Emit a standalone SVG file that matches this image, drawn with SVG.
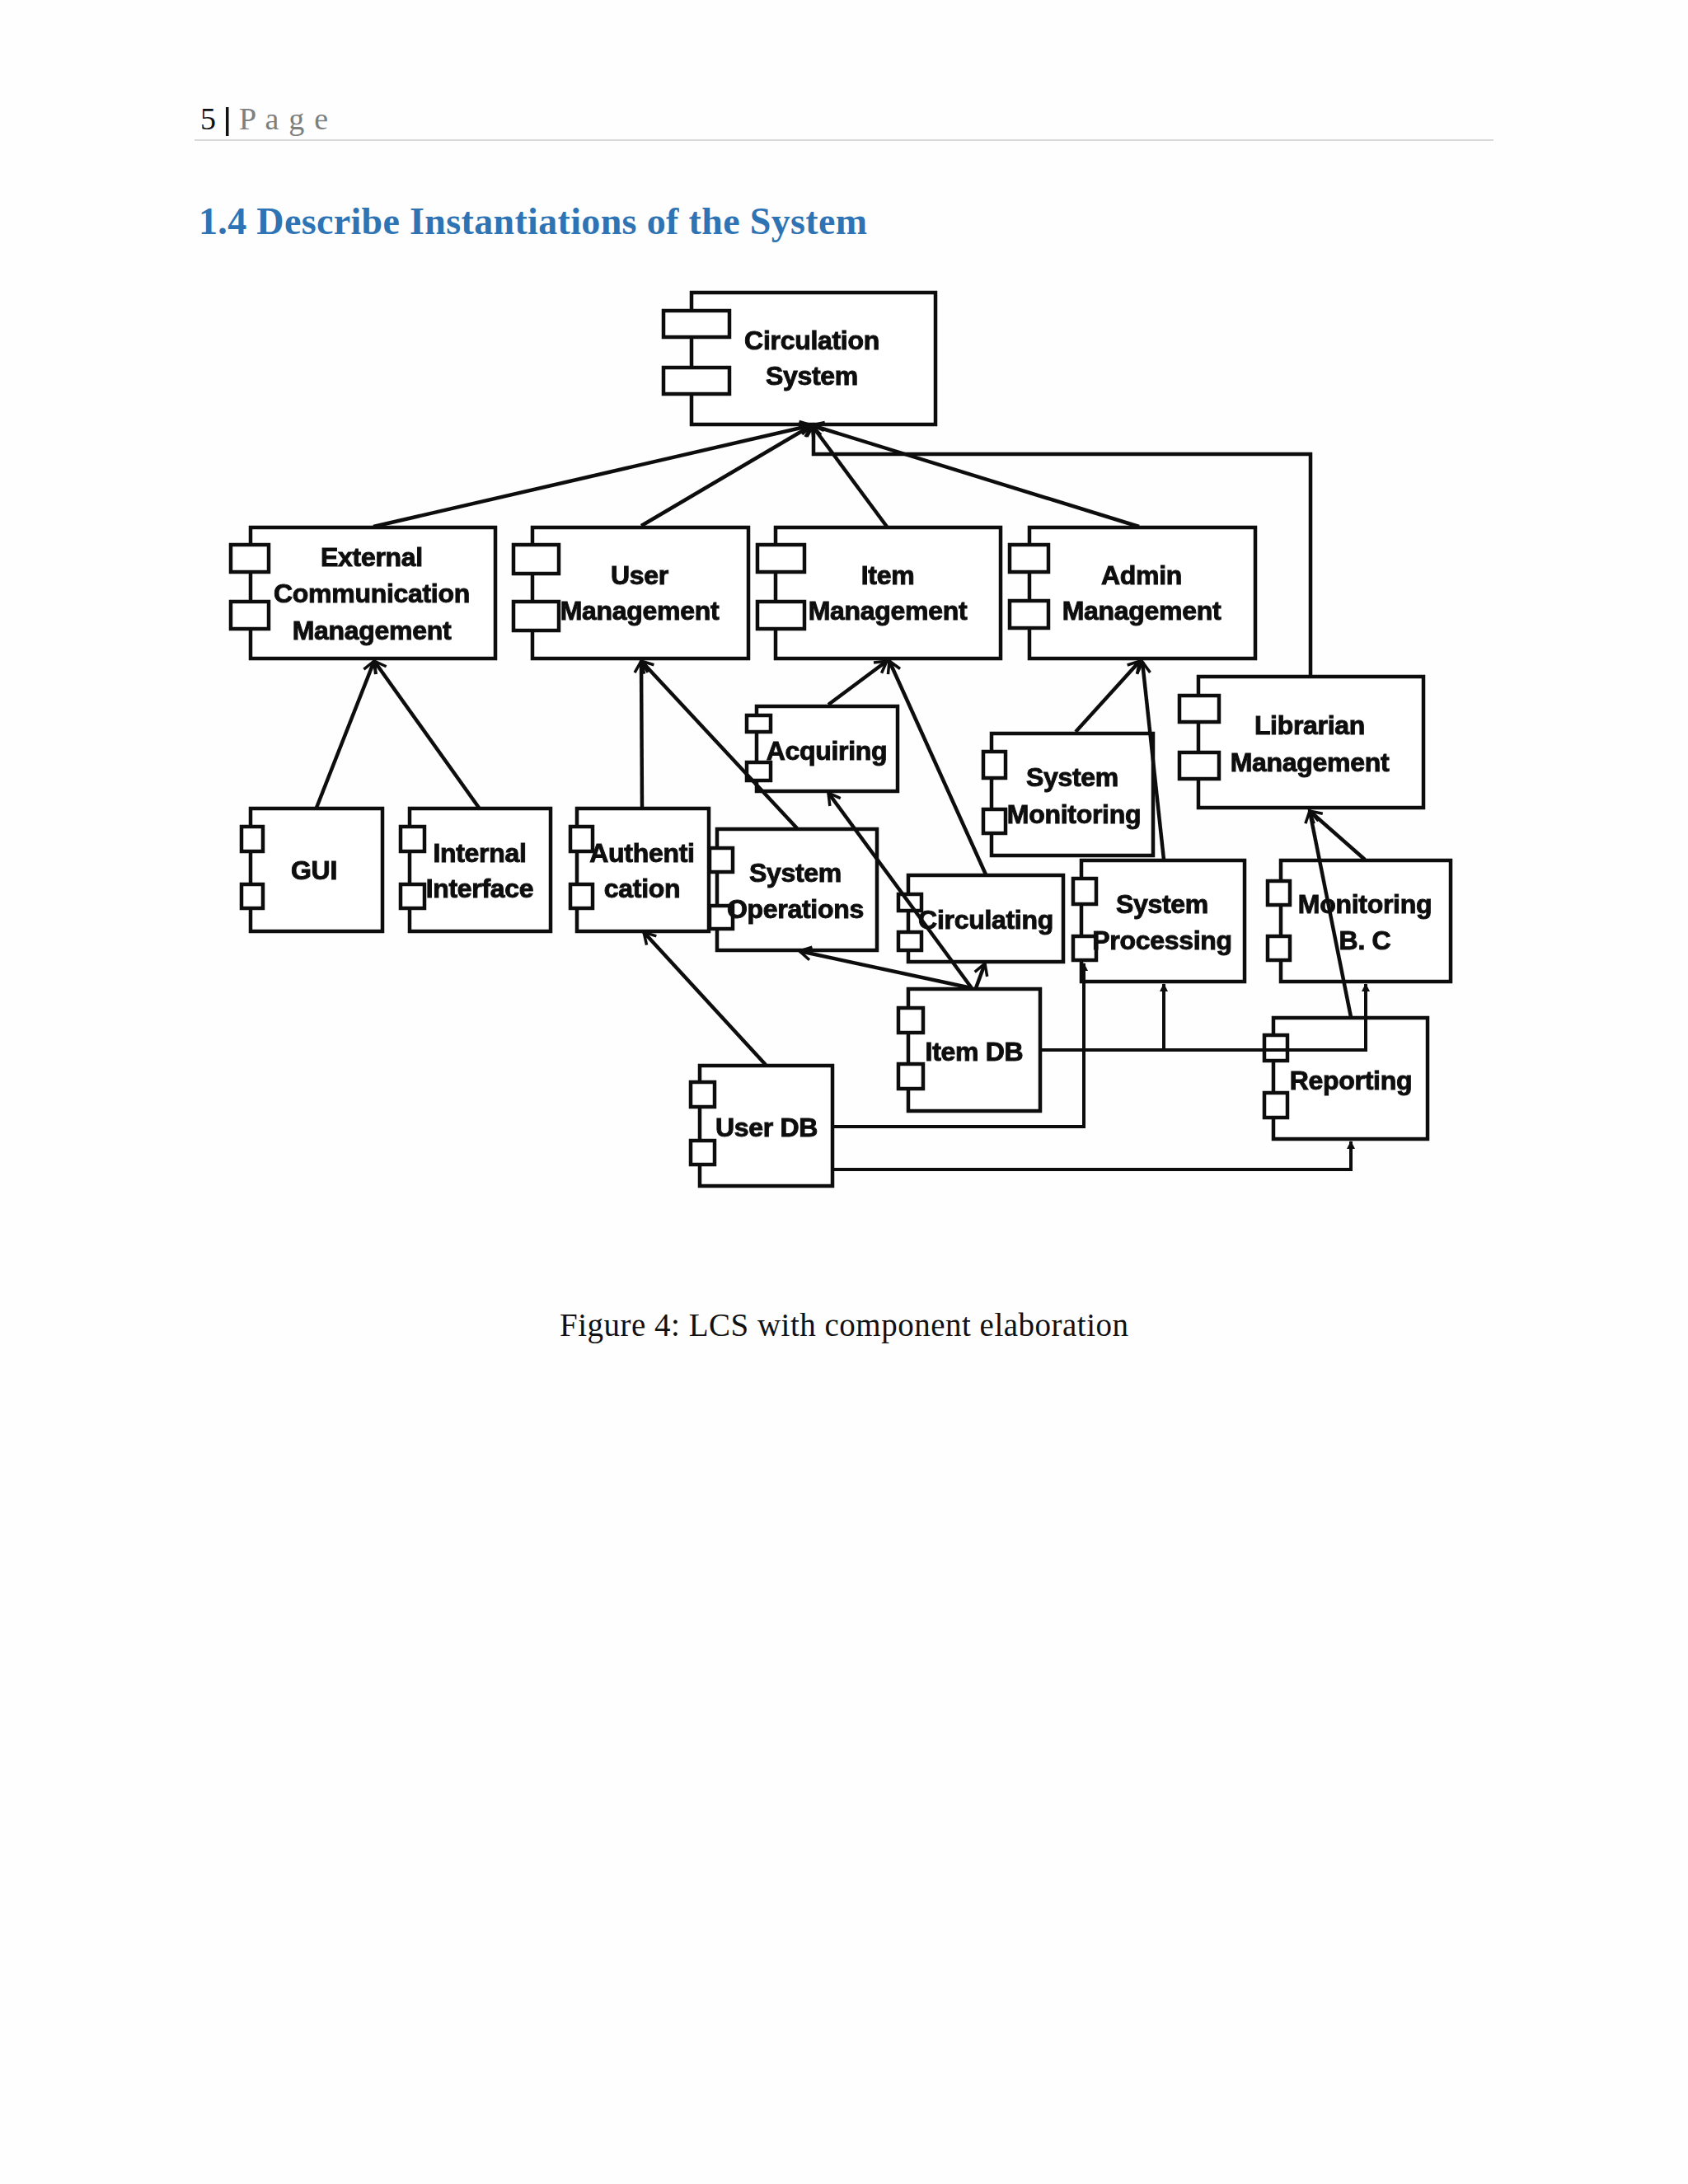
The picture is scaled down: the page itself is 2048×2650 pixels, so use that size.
<svg xmlns="http://www.w3.org/2000/svg" width="2048" height="2650" viewBox="0 0 2048 2650">
<style>
.b{fill:#fff;stroke:#111;stroke-width:4.5}
.l{font-family:"Liberation Sans",Arial,sans-serif;font-weight:700;font-size:32px;fill:#111;text-anchor:middle;letter-spacing:-.3px;stroke:#111;stroke-width:1}
.c{fill:none;stroke:#111;stroke-width:4.5}
.a{marker-end:url(#open)}
.t{stroke-width:4;marker-end:url(#small)}
.s{font-family:"Liberation Serif","Times New Roman",serif}
</style>
<defs>
<marker id="open" markerUnits="userSpaceOnUse" markerWidth="26" markerHeight="26" refX="19" refY="13" orient="auto"><path d="M5 5L19 13L5 21M19 13H8" fill="none" stroke="#111" stroke-width="3.5"/></marker>
<marker id="small" markerUnits="userSpaceOnUse" markerWidth="14" markerHeight="14" refX="10" refY="7" orient="auto"><path d="M1 2L11 7L1 12Z" fill="#111"/></marker>
<filter id="soft" x="-5%" y="-5%" width="110%" height="110%" filterUnits="objectBoundingBox"><feGaussianBlur stdDeviation=".6"/></filter>
</defs>
<rect width="2048" height="2650" fill="#fefefe"/>
<g id="header">
<text class="s" x="243" y="157" font-size="38" fill="#111">5</text>
<rect x="274" y="130" width="3.5" height="35" fill="#111"/>
<text class="s" x="290" y="157" font-size="38" fill="#7f7f7f" textLength="108">P a g e</text>
<rect x="236" y="169" width="1576" height="2" fill="#d9d9d9"/>
<text class="s" x="241" y="284" font-size="46" font-weight="700" fill="#2e74b5" textLength="811">1.4 Describe Instantiations of the System</text>
</g>
<g filter="url(#soft)">
<g id="circulation-system"><rect class="b" x="839" y="355" width="296" height="160"/><rect class="b" x="805" y="377" width="80" height="32"/><rect class="b" x="805" y="446" width="80" height="32"/><text class="l" x="985" y="424">Circulation</text><text class="l" x="985" y="467">System</text></g>
<g id="external-communication-management"><rect class="b" x="304" y="640" width="297" height="159"/><rect class="b" x="280" y="661" width="46" height="33"/><rect class="b" x="280" y="730" width="46" height="33"/><text class="l" x="451" y="687">External</text><text class="l" x="451" y="731">Communication</text><text class="l" x="451" y="776">Management</text></g>
<g id="user-management"><rect class="b" x="646" y="640" width="262" height="159"/><rect class="b" x="623" y="661" width="55" height="35"/><rect class="b" x="623" y="730" width="55" height="35"/><text class="l" x="776" y="709">User</text><text class="l" x="776" y="752">Management</text></g>
<g id="item-management"><rect class="b" x="941" y="640" width="273" height="159"/><rect class="b" x="919" y="661" width="57" height="33"/><rect class="b" x="919" y="730" width="57" height="33"/><text class="l" x="1077" y="709">Item</text><text class="l" x="1077" y="752">Management</text></g>
<g id="admin-management"><rect class="b" x="1249" y="640" width="274" height="159"/><rect class="b" x="1225" y="661" width="47" height="33"/><rect class="b" x="1225" y="729" width="47" height="33"/><text class="l" x="1385" y="709">Admin</text><text class="l" x="1385" y="752">Management</text></g>
<g id="librarian-management"><rect class="b" x="1454" y="821" width="273" height="159"/><rect class="b" x="1431" y="844" width="48" height="32"/><rect class="b" x="1431" y="913" width="48" height="32"/><text class="l" x="1589" y="891">Librarian</text><text class="l" x="1589" y="936">Management</text></g>
<g id="gui"><rect class="b" x="304" y="981" width="160" height="149"/><rect class="b" x="293" y="1003" width="26" height="30"/><rect class="b" x="293" y="1073" width="26" height="29"/><text class="l" x="381" y="1067">GUI</text></g>
<g id="internal-interface"><rect class="b" x="497" y="981" width="171" height="149"/><rect class="b" x="486" y="1003" width="29" height="30"/><rect class="b" x="486" y="1073" width="29" height="29"/><text class="l" x="582" y="1046">Internal</text><text class="l" x="582" y="1089">Interface</text></g>
<g id="authentication"><rect class="b" x="700" y="981" width="160" height="149"/><rect class="b" x="692" y="1003" width="27" height="30"/><rect class="b" x="692" y="1073" width="27" height="29"/><text class="l" x="779" y="1046">Authenti</text><text class="l" x="779" y="1089">cation</text></g>
<g id="system-operations"><rect class="b" x="870" y="1006" width="194" height="147"/><rect class="b" x="861" y="1029" width="28" height="29"/><rect class="b" x="861" y="1099" width="28" height="28"/><text class="l" x="965" y="1070">System</text><text class="l" x="965" y="1114">Operations</text></g>
<g id="acquiring"><rect class="b" x="918" y="857" width="171" height="103"/><rect class="b" x="906" y="868" width="29" height="20"/><rect class="b" x="906" y="925" width="29" height="22"/><text class="l" x="1003" y="922">Acquiring</text></g>
<g id="system-monitoring"><rect class="b" x="1203" y="890" width="196" height="148"/><rect class="b" x="1193" y="912" width="27" height="32"/><rect class="b" x="1193" y="982" width="27" height="29"/><text class="l" x="1301" y="954">System</text><text class="l" x="1303" y="999">Monitoring</text></g>
<g id="circulating"><rect class="b" x="1102" y="1062" width="188" height="105"/><rect class="b" x="1090" y="1085" width="28" height="20"/><rect class="b" x="1090" y="1131" width="28" height="22"/><text class="l" x="1196" y="1127">Circulating</text></g>
<g id="system-processing"><rect class="b" x="1312" y="1044" width="198" height="147"/><rect class="b" x="1302" y="1066" width="28" height="31"/><rect class="b" x="1302" y="1136" width="28" height="29"/><text class="l" x="1410" y="1108">System</text><text class="l" x="1410" y="1152">Processing</text></g>
<g id="monitoring-bc"><rect class="b" x="1554" y="1044" width="206" height="147"/><rect class="b" x="1538" y="1069" width="27" height="29"/><rect class="b" x="1538" y="1136" width="27" height="29"/><text class="l" x="1656" y="1108">Monitoring</text><text class="l" x="1656" y="1152">B. C</text></g>
<g id="item-db"><rect class="b" x="1102" y="1200" width="160" height="148"/><rect class="b" x="1090" y="1223" width="30" height="30"/><rect class="b" x="1090" y="1291" width="30" height="30"/><text class="l" x="1182" y="1287">Item DB</text></g>
<g id="reporting"><rect class="b" x="1545" y="1235" width="187" height="147"/><rect class="b" x="1534" y="1256" width="28" height="31"/><rect class="b" x="1534" y="1326" width="28" height="30"/><text class="l" x="1639" y="1322">Reporting</text></g>
<g id="user-db"><rect class="b" x="849" y="1293" width="161" height="146"/><rect class="b" x="838" y="1313" width="29" height="30"/><rect class="b" x="838" y="1384" width="29" height="29"/><text class="l" x="930" y="1379">User DB</text></g>
<g id="connectors">
<path class="c a" d="M453 639L985 516"/>
<path class="c a" d="M778 638L985 516"/>
<path class="c a" d="M1076 639L985 516"/>
<path class="c a" d="M1382 639L985 516"/>
<path class="c a" d="M1590 821V551H987V516"/>
<path class="c a" d="M384 980L454 802"/>
<path class="c a" d="M581 980L454 802"/>
<path class="c a" d="M779 980L778 802"/>
<path class="c a" d="M967 1005L778 802"/>
<path class="c a" d="M1005 855L1076 802"/>
<path class="c a" d="M1196 1061L1079 802"/>
<path class="c a" d="M1305 888L1383 802"/>
<path class="c a" d="M1412 1043L1386 803"/>
<path class="c a" d="M1656 1043L1589 984"/>
<path class="c a" d="M1639 1234L1589 984"/>
<path class="c a" d="M1179 1199L1005 962"/>
<path class="c a" d="M1184 1199L1195 1169"/>
<path class="c a" d="M1179 1199L970 1154"/>
<path class="c a" d="M929 1292L781 1131"/>
<path class="c t" d="M1262 1274H1657V1194"/>
<path class="c t" d="M1412 1274V1194"/>
<path class="c t" d="M1010 1367H1315V1169"/>
<path class="c t" d="M1010 1419H1639V1385"/>
</g>
</g>
<text id="caption" class="s" x="679" y="1621" font-size="39" fill="#111" textLength="690">Figure 4: LCS with component elaboration</text>
</svg>
